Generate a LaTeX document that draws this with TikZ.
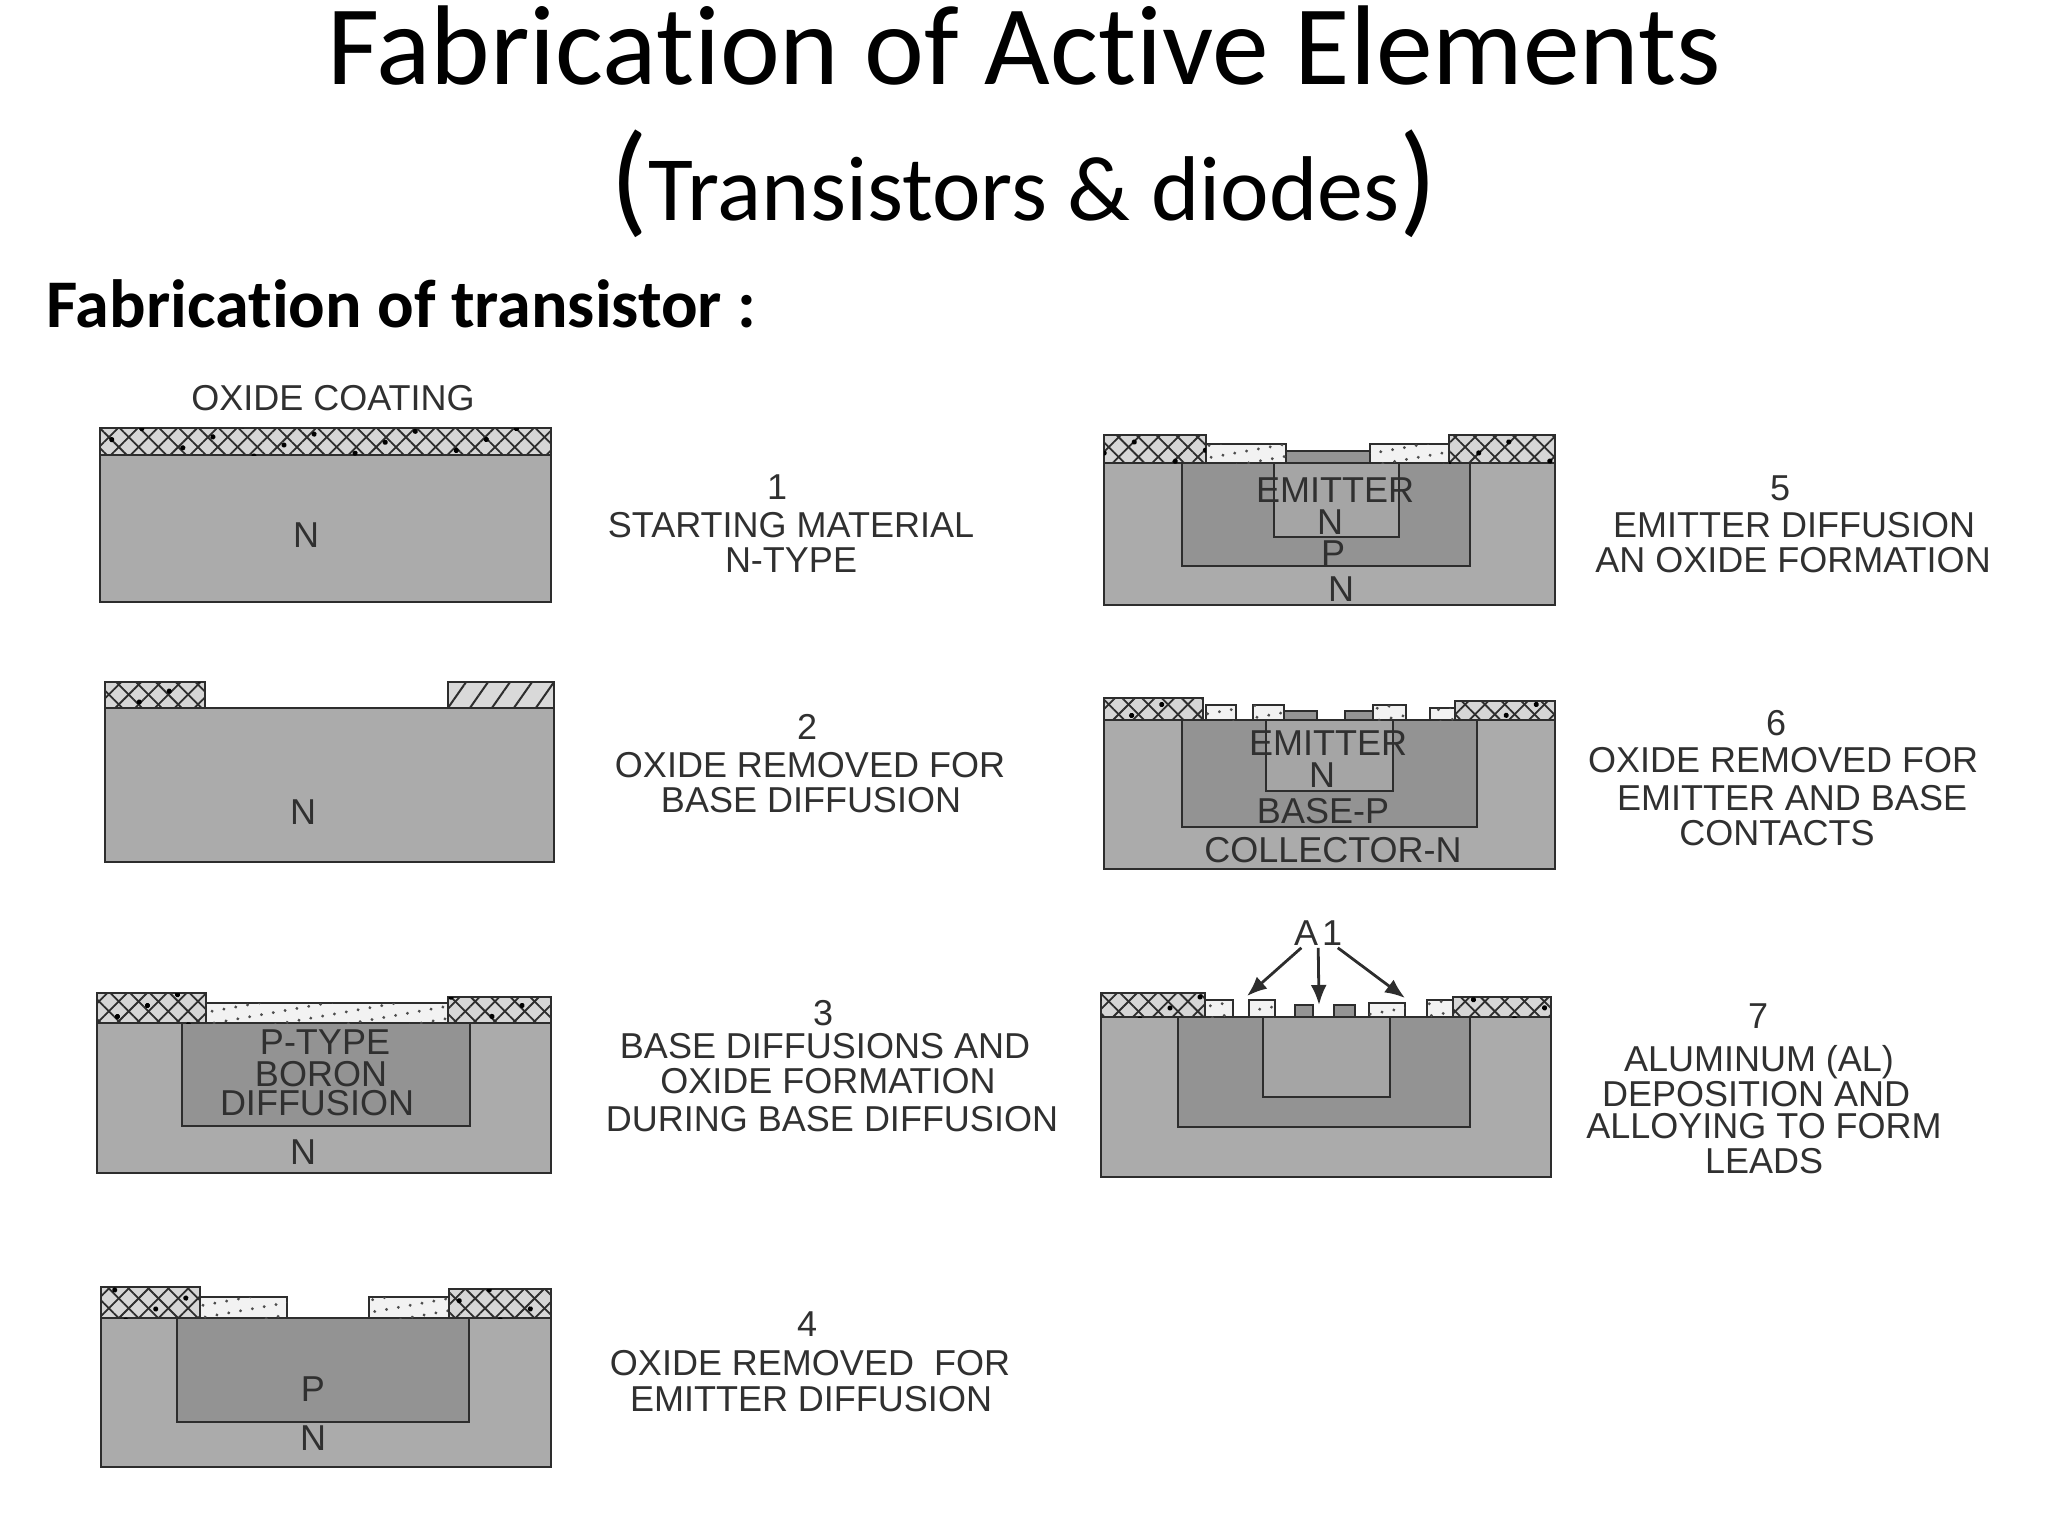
\documentclass[tikz,border=0pt]{standalone}
\usepackage{fontspec}
\setmainfont{Carlito}[Ligatures=NoCommon]
\newfontfamily\labelfont{Liberation Sans}
\usetikzlibrary{arrows.meta, patterns.meta}
\definecolor{nregion}{RGB}{171,171,171}
\definecolor{pregion}{RGB}{147,147,147}
\definecolor{emregion}{RGB}{165,165,165}
\definecolor{oxline}{RGB}{45,45,45}
\definecolor{inktext}{RGB}{48,48,48}
\tikzset{
  layer/.style={draw=oxline, line width=1.4pt},
  oxidethick/.style={draw=oxline, line width=1.3pt, fill=black!16,
    postaction={pattern={Lines[angle=45,distance=7pt,line width=.9pt]}, pattern color=oxline},
    postaction={pattern={Lines[angle=-45,distance=7pt,line width=.9pt]}, pattern color=oxline},
    postaction={pattern={Dots[radius=1.3pt,distance=16pt,angle=20]}, pattern color=black}},
  oxideslant/.style={draw=oxline, line width=1.3pt, fill=black!15,
    postaction={pattern={Lines[angle=55,distance=9pt,line width=1pt]}, pattern color=oxline}},
  oxidethin/.style={draw=oxline, line width=1.3pt, fill=black!5,
    postaction={pattern={Dots[radius=.8pt,distance=6pt,angle=10]}, pattern color=black!70}},
  oxidedark/.style={draw=oxline, line width=1.3pt, fill=black!42},
  steptext/.style={font=\labelfont\fontsize{18}{20}\selectfont, text=inktext, inner sep=0pt},
  alarrow/.style={-{Latex[length=10pt,width=8pt]}, oxline, line width=1.4pt},
}
\begin{document}
\begin{tikzpicture}[x=0.5pt,y=-0.5pt]
  \useasboundingbox (0,0) rectangle (2048,1536);
  % headings
  \node[inner sep=0pt, font=\fontsize{56.7}{66}\selectfont] (title) at (1024,46) {Fabrication of Active Elements};
  \node[inner sep=0pt, font=\fontsize{46}{54}\selectfont] (subtitle) at (1024,184) {{\fontsize{62}{66}\selectfont(}Transistors \& diodes{\fontsize{62}{66}\selectfont)}};
  \node[inner sep=0pt, anchor=west, font=\bfseries\fontsize{34.1}{38}\selectfont] (heading) at (46,304) {Fabrication of transistor :};

  % step 1
  \draw[layer, fill=nregion] (100,455) rectangle (551,602);
  \draw[oxidethick] (100,428) rectangle (551,455);
  \node[steptext] (coat) at (333,398) {OXIDE COATING};
  \node[steptext] (n1) at (306,535) {N};
  \node[steptext] (s1num) at (777,487) {1};
  \node[steptext] (s1a) at (791,525) {STARTING MATERIAL};
  \node[steptext] (s1b) at (791,560) {N-TYPE};

  % step 2
  \draw[layer, fill=nregion] (105,708) rectangle (554,862);
  \draw[oxidethick] (105,682) rectangle (205,708);
  \draw[oxideslant] (448,682) rectangle (554,708);
  \node[steptext] (n2) at (303,812) {N};
  \node[steptext] (s2num) at (807,727) {2};
  \node[steptext] (s2a) at (810,765) {OXIDE REMOVED FOR};
  \node[steptext] (s2b) at (811,800) {BASE DIFFUSION};

  % step 3
  \draw[layer, fill=nregion] (97,1023) rectangle (551,1173);
  \draw[layer, fill=pregion] (182,1023) rectangle (470,1126);
  \draw[oxidethin] (206,1003) rectangle (448,1023);
  \draw[oxidethick] (97,993) rectangle (206,1023);
  \draw[oxidethick] (448,997) rectangle (551,1023);
  \node[steptext] (p3a) at (325,1042) {P-TYPE};
  \node[steptext] (p3b) at (321,1074) {BORON};
  \node[steptext] (p3c) at (317,1103) {DIFFUSION};
  \node[steptext] (n3) at (303,1152) {N};
  \node[steptext] (s3num) at (823,1013) {3};
  \node[steptext] (s3a) at (825,1046) {BASE DIFFUSIONS AND};
  \node[steptext] (s3b) at (828,1081) {OXIDE FORMATION};
  \node[steptext] (s3c) at (832,1119) {DURING BASE DIFFUSION};

  % step 4
  \draw[layer, fill=nregion] (101,1318) rectangle (551,1467);
  \draw[layer, fill=pregion] (177,1318) rectangle (469,1422);
  \draw[oxidethin] (200,1297) rectangle (287,1318);
  \draw[oxidethin] (369,1297) rectangle (449,1318);
  \draw[oxidethick] (101,1287) rectangle (200,1318);
  \draw[oxidethick] (449,1289) rectangle (551,1318);
  \node[steptext] (p4) at (313,1389) {P};
  \node[steptext] (n4) at (313,1438) {N};
  \node[steptext] (s4num) at (807,1324) {4};
  \node[steptext] (s4a) at (810,1363) {OXIDE REMOVED\ \ FOR};
  \node[steptext] (s4b) at (811,1399) {EMITTER DIFFUSION};

  % step 5
  \draw[layer, fill=nregion] (1104,463) rectangle (1555,605);
  \draw[layer, fill=pregion] (1182,463) rectangle (1470,566);
  \draw[layer, fill=emregion] (1274,463) rectangle (1399,537);
  \draw[oxidedark] (1286,451) rectangle (1370,463);
  \draw[oxidethin] (1206,444) rectangle (1286,463);
  \draw[oxidethin] (1370,444) rectangle (1449,463);
  \draw[oxidethick] (1104,435) rectangle (1206,463);
  \draw[oxidethick] (1449,435) rectangle (1555,463);
  \node[steptext] (em5) at (1335,490) {EMITTER};
  \node[steptext] (en5) at (1330,522) {N};
  \node[steptext] (p5) at (1333,553) {P};
  \node[steptext] (n5) at (1341,589) {N};
  \node[steptext] (s5num) at (1780,488) {5};
  \node[steptext] (s5a) at (1794,525) {EMITTER DIFFUSION};
  \node[steptext] (s5b) at (1793,560) {AN OXIDE FORMATION};

  % step 6
  \draw[layer, fill=nregion] (1104,720) rectangle (1555,869);
  \draw[layer, fill=pregion] (1182,720) rectangle (1477,827);
  \draw[layer, fill=emregion] (1266,720) rectangle (1393,791);
  \draw[oxidethin] (1206,705) rectangle (1236,720);
  \draw[oxidethin] (1253,705) rectangle (1284,720);
  \draw[oxidedark] (1284,711) rectangle (1317,720);
  \draw[oxidedark] (1345,711) rectangle (1373,720);
  \draw[oxidethin] (1373,705) rectangle (1406,720);
  \draw[oxidethin] (1430,708) rectangle (1455,720);
  \draw[oxidethick] (1104,698) rectangle (1203,720);
  \draw[oxidethick] (1455,701) rectangle (1555,720);
  \node[steptext] (em6) at (1328,743) {EMITTER};
  \node[steptext] (en6) at (1322,775) {N};
  \node[steptext] (p6) at (1323,811) {BASE-P};
  \node[steptext] (n6) at (1333,850) {COLLECTOR-N};
  \node[steptext] (s6num) at (1776,723) {6};
  \node[steptext] (s6a) at (1783,760) {OXIDE REMOVED FOR};
  \node[steptext] (s6b) at (1792,798) {EMITTER AND BASE};
  \node[steptext] (s6c) at (1777,833) {CONTACTS};

  % step 7
  \draw[layer, fill=nregion] (1101,1017) rectangle (1551,1177);
  \draw[layer, fill=pregion] (1178,1017) rectangle (1470,1127);
  \draw[layer, fill=emregion] (1263,1017) rectangle (1390,1097);
  \draw[oxidethin] (1205,1000) rectangle (1233,1017);
  \draw[oxidethin] (1249,1000) rectangle (1275,1017);
  \draw[oxidedark] (1295,1005) rectangle (1313,1017);
  \draw[oxidedark] (1334,1005) rectangle (1355,1017);
  \draw[oxidethin] (1369,1003) rectangle (1405,1017);
  \draw[oxidethin] (1427,1000) rectangle (1453,1017);
  \draw[oxidethick] (1101,993) rectangle (1205,1017);
  \draw[oxidethick] (1453,997) rectangle (1551,1017);
  \node[steptext, inner sep=1pt] (alu) at (1318,933) {A\kern2pt 1};
  \coordinate (padleft) at (1247,996);
  \coordinate (padmid) at (1319,1005);
  \coordinate (padright) at (1405,998);
  \draw[alarrow] (alu) -- (padleft);
  \draw[alarrow] (alu) -- (padmid);
  \draw[alarrow] (alu) -- (padright);
  \node[steptext] (s7num) at (1758,1016) {7};
  \node[steptext] (s7a) at (1759,1062) {ALUMINUM (AL)};
  \node[steptext] (s7b) at (1756,1094) {DEPOSITION AND};
  \node[steptext] (s7c) at (1764,1126) {ALLOYING TO FORM};
  \node[steptext] (s7d) at (1764,1161) {LEADS};
\end{tikzpicture}
\end{document}
